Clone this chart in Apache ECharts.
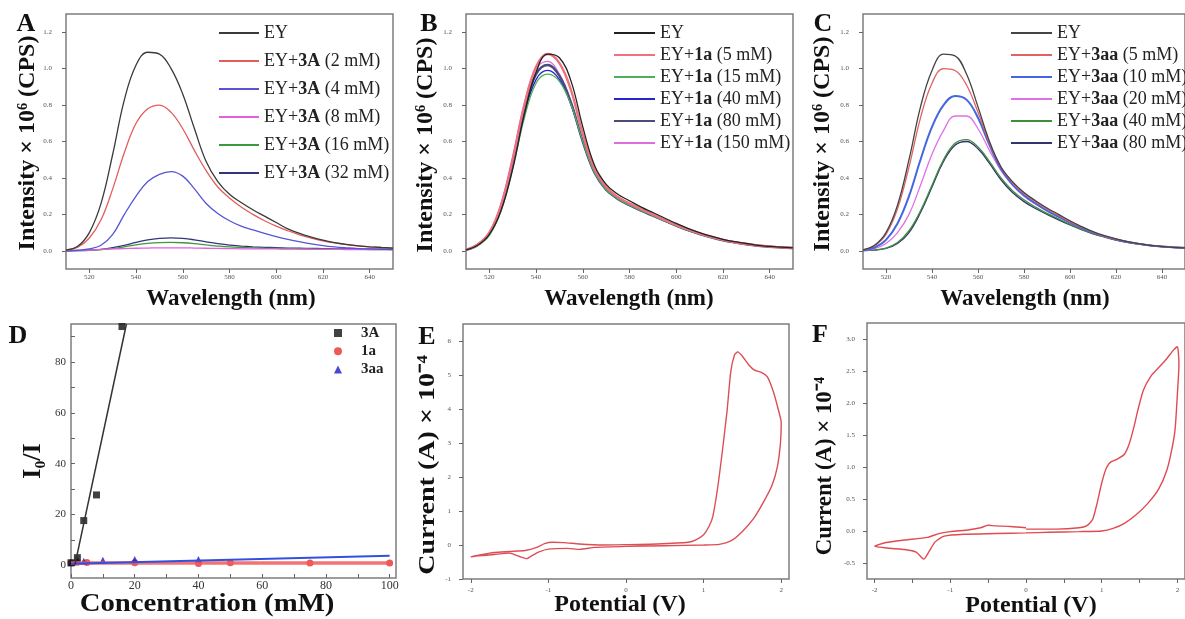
<!DOCTYPE html>
<html><head><meta charset="utf-8">
<script src="https://cdn.jsdelivr.net/npm/echarts@6/dist/echarts.min.js"></script>
<style>html,body{margin:0;padding:0;background:#fff}#c{width:1185px;height:619px}</style>
</head><body><div id="c"></div>
<script>
// ---------- DATA ----------
const wavelengths = [510,515,520,525,530,535,540,545,550,555,560,565,570,575,580,585,590,595,600,605,610,615,620,625,630,635,640,645,650];
const specXTickVals = [520,540,560,580,600,620,640];
const specYTickVals = [0,0.2,0.4,0.6,0.8,1.0,1.2];

// Panel A (EY + 3A)
const aEY  = [0.005,0.025,0.1,0.26,0.53,0.83,1.02,1.09,1.08,1.0,0.86,0.67,0.49,0.38,0.31,0.265,0.225,0.19,0.155,0.12,0.095,0.075,0.058,0.045,0.035,0.027,0.022,0.018,0.015];
const aR2  = [0.005,0.02,0.07,0.17,0.34,0.54,0.7,0.78,0.8,0.76,0.67,0.55,0.44,0.35,0.29,0.24,0.2,0.165,0.135,0.11,0.088,0.07,0.055,0.043,0.034,0.027,0.022,0.018,0.015];
const aB4  = [0,0.003,0.01,0.03,0.09,0.2,0.3,0.38,0.42,0.435,0.41,0.34,0.26,0.205,0.165,0.135,0.115,0.095,0.078,0.063,0.05,0.038,0.028,0.021,0.016,0.012,0.01,0.008,0.007];
const aM8  = [0,0.002,0.004,0.007,0.01,0.012,0.014,0.015,0.016,0.016,0.016,0.015,0.014,0.013,0.012,0.011,0.011,0.01,0.01,0.009,0.009,0.008,0.008,0.008,0.007,0.007,0.007,0.006,0.006];
const aG16 = [0,0.001,0.003,0.006,0.012,0.022,0.033,0.041,0.045,0.046,0.044,0.039,0.032,0.026,0.021,0.018,0.016,0.014,0.013,0.012,0.011,0.01,0.009,0.009,0.008,0.008,0.007,0.007,0.007];
const aN32 = [0,0.001,0.003,0.008,0.017,0.03,0.046,0.06,0.068,0.071,0.068,0.06,0.049,0.039,0.031,0.026,0.022,0.019,0.017,0.015,0.014,0.013,0.012,0.011,0.01,0.01,0.009,0.009,0.009];

// Panel B (EY + 1a)
const bEY   = [0.005,0.03,0.09,0.22,0.45,0.75,0.98,1.08,1.06,0.93,0.68,0.47,0.365,0.31,0.275,0.24,0.21,0.18,0.15,0.123,0.1,0.08,0.063,0.05,0.04,0.03,0.024,0.02,0.016];
const bR5   = [0.006,0.035,0.1,0.25,0.5,0.8,1.01,1.08,1.03,0.88,0.64,0.45,0.35,0.295,0.26,0.228,0.2,0.17,0.142,0.117,0.095,0.076,0.06,0.047,0.037,0.029,0.023,0.019,0.015];
const bG15  = [0.005,0.028,0.085,0.22,0.45,0.73,0.92,0.97,0.93,0.8,0.6,0.43,0.335,0.285,0.25,0.22,0.192,0.164,0.137,0.112,0.091,0.073,0.058,0.045,0.035,0.028,0.022,0.018,0.015];
const bB40  = [0.005,0.03,0.09,0.23,0.47,0.75,0.94,0.99,0.94,0.8,0.6,0.43,0.335,0.285,0.25,0.22,0.192,0.164,0.137,0.112,0.091,0.073,0.058,0.045,0.035,0.028,0.022,0.018,0.015];
const bN80  = [0.005,0.032,0.095,0.24,0.49,0.78,0.97,1.02,0.96,0.81,0.6,0.43,0.335,0.285,0.25,0.22,0.193,0.165,0.138,0.113,0.092,0.074,0.058,0.046,0.036,0.028,0.022,0.018,0.015];
const bM150 = [0.006,0.036,0.1,0.26,0.52,0.81,1.0,1.04,0.97,0.82,0.6,0.43,0.34,0.29,0.255,0.224,0.196,0.167,0.14,0.115,0.093,0.075,0.059,0.046,0.036,0.028,0.022,0.018,0.015];

// Panel C (EY + 3aa)
const cEY  = [0.005,0.03,0.1,0.25,0.5,0.79,0.99,1.08,1.07,0.97,0.79,0.6,0.46,0.38,0.32,0.275,0.235,0.2,0.165,0.133,0.105,0.083,0.065,0.05,0.039,0.03,0.024,0.019,0.016];
const cR5  = [0.005,0.028,0.09,0.23,0.46,0.73,0.92,1.0,0.99,0.91,0.76,0.59,0.46,0.375,0.315,0.27,0.23,0.195,0.16,0.13,0.103,0.081,0.064,0.05,0.039,0.03,0.024,0.019,0.016];
const cB10 = [0.003,0.018,0.06,0.15,0.3,0.5,0.68,0.8,0.85,0.83,0.73,0.58,0.45,0.365,0.305,0.26,0.22,0.187,0.155,0.126,0.1,0.079,0.062,0.048,0.038,0.029,0.023,0.019,0.016];
const cM20 = [0.002,0.012,0.04,0.1,0.2,0.36,0.53,0.66,0.74,0.74,0.67,0.55,0.44,0.36,0.3,0.257,0.22,0.186,0.154,0.125,0.1,0.079,0.062,0.048,0.038,0.029,0.023,0.019,0.016];
const cG40 = [0.001,0.005,0.015,0.045,0.11,0.22,0.36,0.5,0.59,0.61,0.57,0.49,0.4,0.33,0.28,0.24,0.205,0.175,0.145,0.118,0.095,0.076,0.06,0.047,0.037,0.029,0.023,0.019,0.016];
const cN80 = [0.001,0.004,0.013,0.04,0.1,0.21,0.35,0.49,0.58,0.6,0.56,0.48,0.39,0.32,0.27,0.232,0.2,0.17,0.142,0.116,0.093,0.075,0.059,0.046,0.036,0.028,0.022,0.018,0.015];

// Panel D (Stern-Volmer)  [concentration mM, I0/I]
const d3A   = [[0,1],[2,3],[4,17.6],[8,27.7],[16,94]];
const d1a   = [[0,1],[2,1.2],[5,1.1],[20,1.0],[40,0.7],[50,1.0],[75,0.9],[100,0.9]];
const d3aa  = [[0,1],[2,1.9],[4,1.6],[10,2.0],[20,2.3],[40,2.3]];
const fit3A  = [[1.2,0],[17.4,95]];
const fit1a  = [[0,0.9],[100,0.9]];
const fit3aa = [[0,0.6],[100,3.8]];
const dXLabels = [0,20,40,60,80,100];
const dXTicks  = [0,10,20,30,40,50,60,70,80,90,100];
const dYLabels = [0,20,40,60,80];
const dYTicks  = [0,10,20,30,40,50,60,70,80,90];

// Panel E (CV)  [potential V, current x1e-4 A]
const eCV = [[-2,-0.35],[-1.9,-0.3],[-1.7,-0.22],[-1.5,-0.19],[-1.3,-0.16],[-1.15,-0.07],[-1.05,0.04],[-0.95,0.08],[-0.8,0.07],[-0.6,0.03],[-0.3,0.0],[0,0.01],[0.4,0.03],[0.8,0.08],[0.9,0.15],[1.0,0.3],[1.07,0.55],[1.12,0.85],[1.2,2.0],[1.3,3.9],[1.35,5.1],[1.4,5.6],[1.44,5.68],[1.5,5.55],[1.58,5.3],[1.65,5.15],[1.75,5.07],[1.82,4.95],[1.9,4.5],[1.96,4.0],[2.0,3.6],
  [1.99,3.0],[1.95,2.3],[1.88,1.75],[1.78,1.3],[1.65,0.8],[1.5,0.4],[1.35,0.12],[1.2,0.02],[1.0,0.0],[0.5,-0.02],[0,-0.04],[-0.4,-0.07],[-0.6,-0.13],[-0.75,-0.1],[-1.0,-0.12],[-1.12,-0.2],[-1.2,-0.3],[-1.28,-0.4],[-1.38,-0.33],[-1.5,-0.24],[-1.7,-0.28],[-1.9,-0.32],[-2,-0.35]];
const eXLabels = [-2,-1,0,1,2];
const eYLabels = [-1,0,1,2,3,4,5,6];

// Panel F (CV)
const fCV = [[0,0.03],[0.4,0.03],[0.7,0.05],[0.8,0.08],[0.88,0.18],[0.94,0.44],[1.0,0.75],[1.06,0.98],[1.12,1.08],[1.2,1.12],[1.3,1.2],[1.36,1.35],[1.42,1.6],[1.48,1.9],[1.55,2.2],[1.65,2.42],[1.75,2.55],[1.85,2.68],[1.95,2.83],[2.0,2.88],
  [2.02,2.6],[2.0,2.15],[1.97,1.6],[1.93,1.3],[1.86,0.95],[1.75,0.65],[1.6,0.42],[1.45,0.25],[1.3,0.12],[1.15,0.04],[1.0,0.0],[0.7,-0.01],[0.3,-0.02],[0,-0.03],[-0.4,-0.04],[-0.82,-0.05],[-1.08,-0.08],[-1.2,-0.17],[-1.28,-0.32],[-1.35,-0.44],[-1.45,-0.33],[-1.6,-0.29],[-1.8,-0.27],[-2,-0.24],
  [-1.85,-0.18],[-1.6,-0.14],[-1.3,-0.1],[-1.15,-0.04],[-1.0,-0.01],[-0.75,0.02],[-0.6,0.05],[-0.5,0.09],[-0.4,0.08],[-0.2,0.07],[0,0.05]];
const fXLabels = [-2,-1,0,1,2];
const fXTicks  = [-2,-1.5,-1,-0.5,0,0.5,1,1.5,2];
const fYLabels = [-0.5,0,0.5,1.0,1.5,2.0,2.5,3.0];

// ---------- CHART ----------
const SERIF = '"Liberation Serif","Times New Roman",serif';
const chart = echarts.init(document.getElementById('c'), null, {renderer:'canvas'});

const grids = [
  {left:66,  top:14,  width:327, height:255},
  {left:466, top:14,  width:327, height:255},
  {left:863, top:14,  width:327, height:255},
  {left:71,  top:324, width:325, height:254},
  {left:463, top:324, width:326, height:255},
  {left:867, top:323, width:327, height:256}
].map(g => Object.assign({show:true, borderColor:'#7d7d7d', borderWidth:1.5, backgroundColor:'#fff'}, g));

function axisBase(gi, min, max, labels, ticks, opts) {
  opts = opts || {};
  return {
    gridIndex: gi, type:'value', min:min, max:max,
    axisLine:{show:false, onZero:false},
    splitLine:{show:false},
    axisTick:{show:true, customValues:ticks, length:opts.tickLen||4, inside:!!opts.inside, lineStyle:{color:'#666', width:1}},
    axisLabel:{customValues:labels, fontSize:opts.fs||7, color:opts.color||'#555', margin:opts.margin||4,
      fontFamily:SERIF, formatter: opts.fmt || (v => String(v))}
  };
}
const fmt1 = v => v.toFixed(1);

const xAxis = [
  axisBase(0,510,650,specXTickVals,specXTickVals,{margin:5}),
  axisBase(1,510,650,specXTickVals,specXTickVals,{margin:5}),
  axisBase(2,510,650,specXTickVals,specXTickVals,{margin:5}),
  axisBase(3,0,102,dXLabels,dXTicks,{fs:12,color:'#333',margin:2,inside:true}),
  axisBase(4,-2.1,2.1,eXLabels,eXLabels,{margin:8}),
  axisBase(5,-2.1,2.1,fXLabels,fXTicks,{margin:8})
];
const yAxis = [
  axisBase(0,-0.1,1.3,specYTickVals,specYTickVals,{fmt:fmt1,margin:14}),
  axisBase(1,-0.1,1.3,specYTickVals,specYTickVals,{fmt:fmt1,margin:14}),
  axisBase(2,-0.1,1.3,specYTickVals,specYTickVals,{fmt:fmt1,margin:14}),
  axisBase(3,-5,95,dYLabels,dYTicks,{fs:11,color:'#333',margin:5,inside:true}),
  axisBase(4,-1,6.5,eYLabels,eYLabels,{margin:12}),
  axisBase(5,-0.75,3.25,fYLabels,fYLabels,{fmt:fmt1,margin:12})
];

function spec(name, gi, arr, color, width) {
  return {name:name, type:'line', xAxisIndex:gi, yAxisIndex:gi, symbol:'none', smooth:0.4,
    lineStyle:{color:color, width:width||1.3}, itemStyle:{color:color},
    data: wavelengths.map((w,i)=>[w, arr[i]])};
}

const labelMap = {
  'A0':'EY', 'A1':'EY+{b|3A} (2 mM)', 'A2':'EY+{b|3A} (4 mM)', 'A3':'EY+{b|3A} (8 mM)', 'A4':'EY+{b|3A} (16 mM)', 'A5':'EY+{b|3A} (32 mM)',
  'B0':'EY', 'B1':'EY+{b|1a} (5 mM)', 'B2':'EY+{b|1a} (15 mM)', 'B3':'EY+{b|1a} (40 mM)', 'B4':'EY+{b|1a} (80 mM)', 'B5':'EY+{b|1a} (150 mM)',
  'C0':'EY', 'C1':'EY+{b|3aa} (5 mM)', 'C2':'EY+{b|3aa} (10 mM)', 'C3':'EY+{b|3aa} (20 mM)', 'C4':'EY+{b|3aa} (40 mM)', 'C5':'EY+{b|3aa} (80 mM)',
  'D0':'{b|3A}', 'D1':'{b|1a}', 'D2':'{b|3aa}'
};

const series = [
  spec('A5',0,aN32,'#34347e'), spec('A4',0,aG16,'#3c9a3c'), spec('A3',0,aM8,'#e060e0'),
  spec('A2',0,aB4,'#5555d5'), spec('A1',0,aR2,'#e35d5a'), spec('A0',0,aEY,'#3a3a3a'),
  spec('B5',1,bM150,'#dd6ee0'), spec('B4',1,bN80,'#4c4c7c',2.4), spec('B3',1,bB40,'#2525cc'),
  spec('B2',1,bG15,'#4fae5a'), spec('B1',1,bR5,'#f0707c',2.4), spec('B0',1,bEY,'#222222'),
  spec('C5',2,cN80,'#33336e'), spec('C4',2,cG40,'#3e8e3e'), spec('C3',2,cM20,'#e070e6'),
  spec('C2',2,cB10,'#4466e0',2), spec('C1',2,cR5,'#e06262'), spec('C0',2,cEY,'#444444'),
  {name:'fit1a', type:'line', xAxisIndex:3, yAxisIndex:3, symbol:'none', data:fit1a, lineStyle:{color:'#f05a5a', width:3.5, opacity:0.85}},
  {name:'fit3aa', type:'line', xAxisIndex:3, yAxisIndex:3, symbol:'none', data:fit3aa, lineStyle:{color:'#3050e0', width:2}},
  {name:'fit3A', type:'line', xAxisIndex:3, yAxisIndex:3, symbol:'none', data:fit3A, lineStyle:{color:'#333', width:1.5}},
  {name:'D1', type:'scatter', xAxisIndex:3, yAxisIndex:3, symbol:'circle', symbolSize:7, data:d1a, itemStyle:{color:'#e8302c'}},
  {name:'D2', type:'scatter', xAxisIndex:3, yAxisIndex:3, symbol:'triangle', symbolSize:7, data:d3aa, itemStyle:{color:'#1c1cc4'}},
  {name:'D0', type:'scatter', xAxisIndex:3, yAxisIndex:3, symbol:'rect', symbolSize:7, data:d3A, itemStyle:{color:'#111'}},
  {name:'E', type:'line', xAxisIndex:4, yAxisIndex:4, symbol:'none', smooth:0.2, data:eCV, lineStyle:{color:'#dc4e55', width:1.4}},
  {name:'F', type:'line', xAxisIndex:5, yAxisIndex:5, symbol:'none', smooth:0.2, data:fCV, lineStyle:{color:'#e04a50', width:1.4}}
];

const legTS = {fontFamily:SERIF, fontSize:18, color:'#222', lineHeight:20,
  rich:{b:{fontFamily:SERIF, fontSize:18, fontWeight:'bold', color:'#222', lineHeight:20}}};
function specLegend(prefix, left, gap, w) {
  return {orient:'vertical', left:left, top:23, padding:0, icon:'rect', itemWidth:w, itemHeight:2, itemGap:gap,
    selectedMode:false, data:[0,1,2,3,4,5].map(i=>prefix+i), formatter:n=>labelMap[n], textStyle:legTS};
}
const legend = [
  specLegend('A',219,8,40),
  specLegend('B',614,2,41),
  specLegend('C',1011,2,41),
  {orient:'vertical', left:334, top:325, padding:0, itemWidth:8, itemHeight:8, itemGap:2.3, selectedMode:false,
   data:['D0','D1','D2'], formatter:n=>labelMap[n],
   textStyle:{fontFamily:SERIF, fontSize:15, color:'#222', lineHeight:16,
     rich:{b:{fontFamily:SERIF, fontSize:15, fontWeight:'bold', color:'#222', lineHeight:16, padding:[0,0,0,14]}}}}
];

function txt(s, x, y, size, rot, sx) {
  return {type:'text', x:x, y:y, rotation: rot ? Math.PI/2 : 0, scaleX: sx || 1, silent:true,
    style:{text:s, font:'bold '+size+'px '+SERIF, fill:'#111', align:'center', verticalAlign:'middle',
      textAlign:'center', textVerticalAlign:'middle'}};
}
const graphic = [
  txt('A',26,24,26), txt('B',429,24,26), txt('C',823,24,26),
  txt('D',18,336,26), txt('E',427,337,26), txt('F',820,335,26),
  txt('Intensity × 10\u2076 (CPS)',28,143,24,true),
  txt('Intensity × 10\u2076 (CPS)',426,145,24,true),
  txt('Intensity × 10\u2076 (CPS)',823,144,24,true),
  txt('I\u2080/I',33,461,26,true),
  txt('Current (A) × 10\u207B\u2074',428,465,24,true,1.17),
  txt('Current (A) × 10\u207B\u2074',825,466,24,true,0.95),
  txt('Wavelength (nm)',231,299,23),
  txt('Wavelength (nm)',629,299,23),
  txt('Wavelength (nm)',1025,299,23),
  txt('Concentration (mM)',207,605,25,false,1.15),
  txt('Potential (V)',620,605,24),
  txt('Potential (V)',1031,606,24)
];

chart.setOption({
  animation:false, backgroundColor:'#fff',
  grid:grids, xAxis:xAxis, yAxis:yAxis, series:series, legend:legend, graphic:graphic
});
</script></body></html>
